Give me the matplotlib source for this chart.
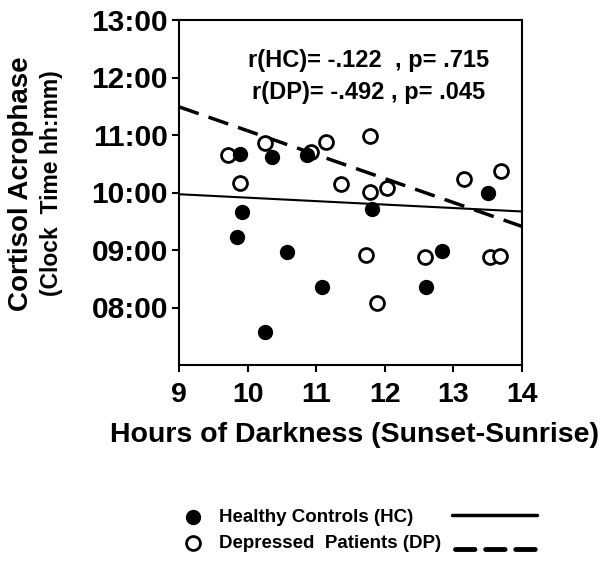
import matplotlib
matplotlib.use("Agg")
import matplotlib.pyplot as plt
import numpy as np

plt.rcParams['font.family'] = ['Liberation Sans', 'DejaVu Sans']
plt.rcParams['font.weight'] = 'bold'

# Data (hours of darkness, acrophase in clock hours)
hc_x = [9.89, 10.35, 10.86, 13.51, 9.92, 9.84, 10.58, 11.08, 10.25, 11.82, 12.83, 12.60]
hc_y = [10.67, 10.62, 10.65, 9.99, 9.66, 9.23, 8.97, 8.35, 7.57, 9.71, 8.98, 8.35]
dp_x = [9.72, 10.25, 10.93, 11.15, 11.78, 9.89, 11.36, 11.78, 12.03, 13.16, 13.69,
        11.73, 11.89, 13.53, 13.68, 12.59]
dp_y = [10.65, 10.86, 10.71, 10.88, 10.98, 10.16, 10.14, 10.01, 10.07, 10.23, 10.38,
        8.91, 8.08, 8.88, 8.90, 8.88]

# Regression lines (value at x=9, slope per hour)
hc_fit = [9.97, -0.060]
dp_fit = [11.49, -0.416]

x_ticks = [9, 10, 11, 12, 13, 14]
y_ticks = [8, 9, 10, 11, 12, 13]
y_tick_labels = ["08:00", "09:00", "10:00", "11:00", "12:00", "13:00"]

annot_hc = "r(HC)= -.122  , p= .715"
annot_dp = "r(DP)= -.492 , p= .045"
legend_labels = ["Healthy Controls (HC)", "Depressed  Patients (DP)"]

W, H = 602, 561
fig = plt.figure(figsize=(W / 100, H / 100), dpi=100)
ax = fig.add_axes([179 / W, 1 - 365 / H, (522 - 179) / W, (365 - 20) / H])

ax.set_xlim(9, 14)
ax.set_ylim(7, 13)
ax.set_xticks(x_ticks)
ax.set_yticks(y_ticks)
ax.set_yticklabels(y_tick_labels)
for s in ['left', 'right', 'top', 'bottom']:
    ax.spines[s].set_linewidth(1.5)
ax.tick_params(direction='out', length=5, width=1.5, pad=3)
ax.tick_params(axis='x', labelsize=20.5, pad=7)
ax.tick_params(axis='y', labelsize=21.5)
for lab in ax.get_xticklabels() + ax.get_yticklabels():
    lab.set_fontweight('bold')

xs = np.array([9, 14])
ax.plot(xs, hc_fit[0] + hc_fit[1] * (xs - 9), color='black', lw=1.5, zorder=2)
ax.plot(xs, dp_fit[0] + dp_fit[1] * (xs - 9), color='black', lw=2.5,
        dashes=(6, 3), zorder=2)

ax.plot(dp_x, dp_y, 'o', ms=10, mfc='white', mec='black', mew=2.0, zorder=3)
ax.plot(hc_x, hc_y, 'o', ms=10, mfc='black', mec='black', mew=1, zorder=4)

ax.text((248 - 179) / 343, 1 - (61 - 20) / 345, annot_hc, transform=ax.transAxes,
        fontsize=17, fontweight='bold', ha='left', va='center')
ax.text((252 - 179) / 343, 1 - (92 - 20) / 345, annot_dp, transform=ax.transAxes,
        fontsize=17, fontweight='bold', ha='left', va='center')

# Axis labels
fig.text(354 / W, 1 - 435 / H, "Hours of Darkness (Sunset-Sunrise)", fontsize=20.5,
         fontweight='bold', ha='center', va='center')
fig.text(21 / W, 1 - 184 / H, "Cortisol Acrophase", fontsize=20, fontweight='bold',
         rotation=90, ha='center', va='center')
fig.text(52 / W, 1 - 183 / H, "(Clock  Time hh:mm)", fontsize=16.5, fontweight='bold',
         rotation=90, ha='center', va='center')

# Legend (manual)
lax = fig.add_axes([0, 0, 1, 1], zorder=-1)
lax.set_xlim(0, W)
lax.set_ylim(H, 0)
lax.axis('off')
lax.plot([193], [517], 'o', ms=10, mfc='black', mec='black')
lax.plot([193], [543], 'o', ms=10, mfc='white', mec='black', mew=2.0)
lax.text(219, 517, legend_labels[0], fontsize=13.5, fontweight='bold', va='center')
lax.text(219, 543, legend_labels[1], fontsize=13.5, fontweight='bold', va='center')
lax.plot([452, 537], [515, 515], color='black', lw=2.5, solid_capstyle='round')
lax.plot([455, 537], [549, 549], color='black', lw=3.5, dashes=(4, 2.2),
         dash_capstyle='round')

fig.savefig("out.png", dpi=100, facecolor='white')
